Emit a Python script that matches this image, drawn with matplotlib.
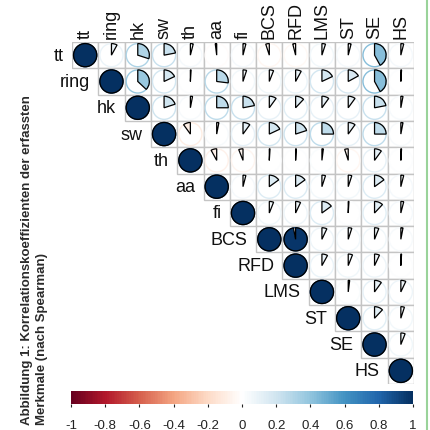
import numpy as np
import matplotlib.pyplot as plt
from matplotlib.patches import Wedge, Circle, Rectangle
from matplotlib.colors import LinearSegmentedColormap, Normalize
from matplotlib.cm import ScalarMappable

plt.rcParams['font.family'] = ['Liberation Sans', 'DejaVu Sans']

merkmale = ['tt', 'ring', 'hk', 'sw', 'th', 'aa', 'fi', 'BCS', 'RFD', 'LMS', 'ST', 'SE', 'HS']

# obere Dreiecksmatrix, Zeile fuer Zeile (rechts von der Diagonale)
r_tt   = [0.08, 0.30, 0.22, 0.04, -0.02, 0.04, -0.05, -0.04, 0.05, 0.04, 0.42, 0.04]
r_ring = [0.37, 0.18, 0.01, 0.27, 0.05, 0.06, 0.08, 0.18, 0.17, 0.42, 0.01]
r_hk   = [0.20, 0.03, 0.25, 0.22, 0.10, 0.12, 0.10, 0.10, 0.22, 0.03]
r_sw   = [-0.10, 0.03, 0.10, 0.18, 0.20, 0.25, 0.10, 0.25, 0.03]
r_th   = [-0.08, -0.06, 0.01, 0.01, 0.02, -0.05, 0.10, 0.01]
r_aa   = [0.04, 0.15, 0.15, 0.05, 0.05, 0.15, 0.04]
r_fi   = [0.06, 0.07, 0.15, 0.01, 0.12, 0.04]
r_bcs  = [0.97, 0.07, 0.05, 0.06, 0.03]
r_rfd  = [0.08, 0.06, 0.07, 0.01]
r_lms  = [0.02, 0.10, 0.07]
r_st   = [0.12, 0.05]
r_se   = [0.06]
zeilen = [r_tt, r_ring, r_hk, r_sw, r_th, r_aa, r_fi, r_bcs, r_rfd, r_lms, r_st, r_se, []]

cb_ticks = [-1, -0.8, -0.6, -0.4, -0.2, 0, 0.2, 0.4, 0.6, 0.8, 1]

# corrplot RdBu
farben = ["#67001F", "#B2182B", "#D6604D", "#F4A582", "#FDDBC7", "#FFFFFF",
          "#D1E5F0", "#92C5DE", "#4393C3", "#2166AC", "#053061"]
cmap = LinearSegmentedColormap.from_list('rdbu', farben, N=200)
norm = Normalize(-1, 1)

n = len(merkmale)
M = np.eye(n)
for i, z in enumerate(zeilen):
    for k, v in enumerate(z):
        M[i, i + 1 + k] = v

W, H = 430, 431
fig = plt.figure(figsize=(W / 100, H / 100), dpi=100)

ax = fig.add_axes([72 / W, 46 / H, 342 / W, 342 / H])
ax.set_xlim(-0.5, n - 0.5)
ax.set_ylim(-0.5, n - 0.5)
ax.axis('off')

rad = 0.44
for i in range(n):
    y = n - 1 - i
    for j in range(i, n):
        ax.add_patch(Rectangle((j - 0.5, y - 0.5), 1, 1, facecolor='white',
                               edgecolor='#c4c4c4', lw=1.0, zorder=1))
for i in range(n):
    y = n - 1 - i
    for j in range(i, n):
        r = M[i, j]
        col = cmap(norm(r))
        ax.add_patch(Circle((j, y), rad, facecolor='none', edgecolor=col, lw=1.0, zorder=2))
        if r >= 0:
            t1, t2 = 90 - 360 * r, 90
        else:
            t1, t2 = 90, 90 - 360 * r
        ax.add_patch(Wedge((j, y), rad, t1, t2, facecolor=col, edgecolor='black',
                           lw=0.9, zorder=3))
    ax.text(i - 0.82, y, merkmale[i], ha='right', va='center', fontsize=13, color='#111111')
    ax.text(i, n - 0.5 + 0.15, merkmale[i], rotation=90, rotation_mode='anchor',
            ha='left', va='center', fontsize=13, color='#111111')

# Farbskala
cax = fig.add_axes([71 / W, (H - 405) / H, 342 / W, 13 / H])
cb = fig.colorbar(ScalarMappable(norm=norm, cmap=cmap), cax=cax, orientation='horizontal',
                  ticks=cb_ticks)
cb.outline.set_visible(False)
cb.ax.set_xticklabels(['%g' % t for t in cb_ticks])
cb.ax.tick_params(length=2, width=0.8, pad=9, labelsize=9.5, colors='#222222')

# Titel links
fig.text(27 / W, 1 - 425 / H, 'Abbildung 1: Korrelationskoeffizienten der erfassten',
         rotation=90, rotation_mode='anchor', ha='left', va='center',
         fontsize=9.5, fontweight='bold', color='#2a2a2a')
fig.text(42 / W, 1 - 425 / H, 'Merkmale (nach Spearman)',
         rotation=90, rotation_mode='anchor', ha='left', va='center',
         fontsize=9.5, fontweight='bold', color='#2a2a2a')

# gruener Rand rechts
fig.add_artist(plt.Line2D([427 / W, 427 / W], [0, 1], color='#9ad39a', lw=1.5))

fig.savefig('out.png', dpi=100)
